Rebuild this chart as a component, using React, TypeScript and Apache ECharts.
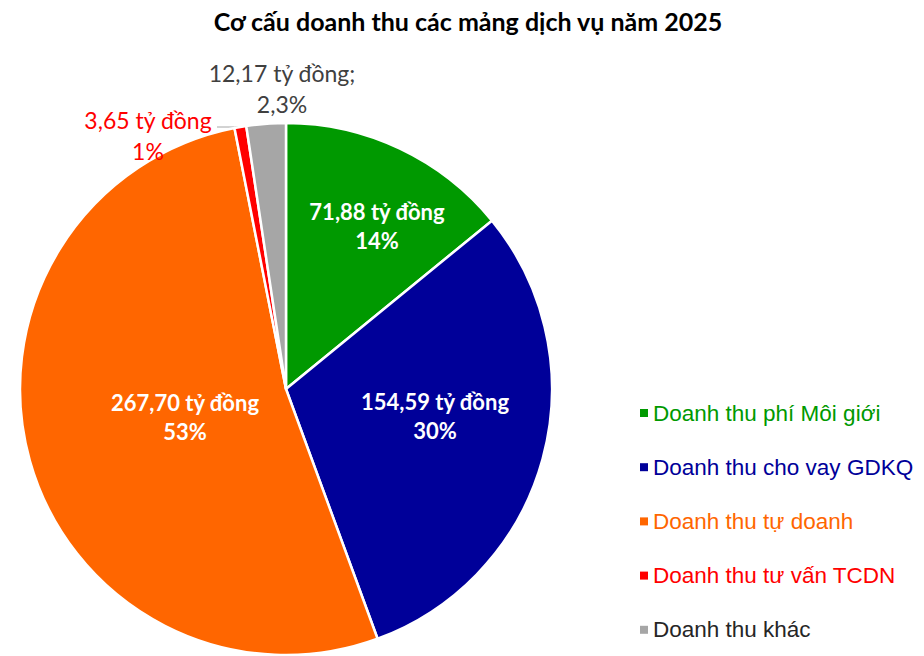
import React, { useEffect, useRef } from "react";
import * as echarts from "echarts";

const categories = [
  "Doanh thu phí Môi giới",
  "Doanh thu cho vay GDKQ",
  "Doanh thu tự doanh",
  "Doanh thu tư vấn TCDN",
  "Doanh thu khác",
];
const values = [71.88, 154.59, 267.7, 3.65, 12.17];
const valueLabels = ["71,88 tỷ đồng", "154,59 tỷ đồng", "267,70 tỷ đồng", "3,65 tỷ đồng", "12,17 tỷ đồng;"];
const pctLabels = ["14%", "30%", "53%", "1%", "2,3%"];
const colors = ["#009900", "#000099", "#FF6600", "#FF0000", "#A6A6A6"];
const legendTextColors = ["#009900", "#000099", "#FF6600", "#FF0000", "#262626"];

// label anchor positions (centre of label block)
const labelPos: [number, number][] = [
  [377, 226],
  [435, 416],
  [185, 417],
  [148, 135],
  [282, 88],
];

export default function App() {
  const ref = useRef<HTMLDivElement>(null);
  useEffect(() => {
    if (!ref.current) return;
    const chart = echarts.init(ref.current, undefined, { renderer: "svg" });
    const data = categories.map((name, i) => {
      const inside = i < 3;
      return {
        name,
        value: values[i],
        itemStyle: { color: colors[i] },
        label: inside
          ? {
              show: true,
              position: "inside",
              formatter: valueLabels[i] + "\n" + pctLabels[i],
              color: "#ffffff",
              fontWeight: "bold",
              fontSize: 22,
              lineHeight: 29,
              fontFamily: "Lato",
              align: "center",
            }
          : {
              show: true,
              position: "outside",
              formatter: valueLabels[i] + "\n" + pctLabels[i],
              color: i === 3 ? "#FF0000" : "#404040",
              fontSize: 23,
              lineHeight: 31,
              fontFamily: "Lato",
              align: "center",
            },
        labelLine: { show: i === 3, lineStyle: { color: "#A6A6A6", width: 1 } },
      };
    });
    chart.setOption({
      animation: false,
      backgroundColor: "#ffffff",
      title: {
        text: "Cơ cấu doanh thu các mảng dịch vụ năm 2025",
        left: 463,
        textAlign: "center",
        top: 3,
        textStyle: { fontFamily: "Lato", fontWeight: "bold", fontSize: 25, color: "#000000" },
      },
      legend: {
        orient: "vertical",
        left: 635,
        top: 395,
        itemWidth: 8,
        itemHeight: 8,
        itemGap: 28.2,
        itemTextGap: 6,
        icon: "rect",
        data: categories.map((name, i) => ({
          name,
          textStyle: { color: legendTextColors[i] },
        })),
        textStyle: { fontFamily: "Liberation Sans", fontSize: 22.5, lineHeight: 26, padding: [0, 0, 0, 0] },
        itemStyle: { borderWidth: 0 },
      },
      series: [
        {
          type: "pie",
          center: [286, 389],
          radius: [0, 266],
          startAngle: 90,
          clockwise: true,
          avoidLabelOverlap: false,
          itemStyle: { borderColor: "#ffffff", borderWidth: 2.5 },
          emphasis: { disabled: true },
          data,
          labelLayout: (params: any) => {
            const i = params.dataIndex;
            const [x, y] = labelPos[i];
            const res: any = { x, y, align: "center", verticalAlign: "middle" };
            if (i === 3) {
              res.labelLinePoints = [
                [239, 127],
                [228, 127],
                [217, 127],
              ];
            }
            return res;
          },
        },
      ],
    });
    return () => chart.dispose();
  }, []);
  return (
    <div
      ref={ref}
      style={{ position: "absolute", left: 0, top: 0, width: 924, height: 656 }}
    />
  );
}
